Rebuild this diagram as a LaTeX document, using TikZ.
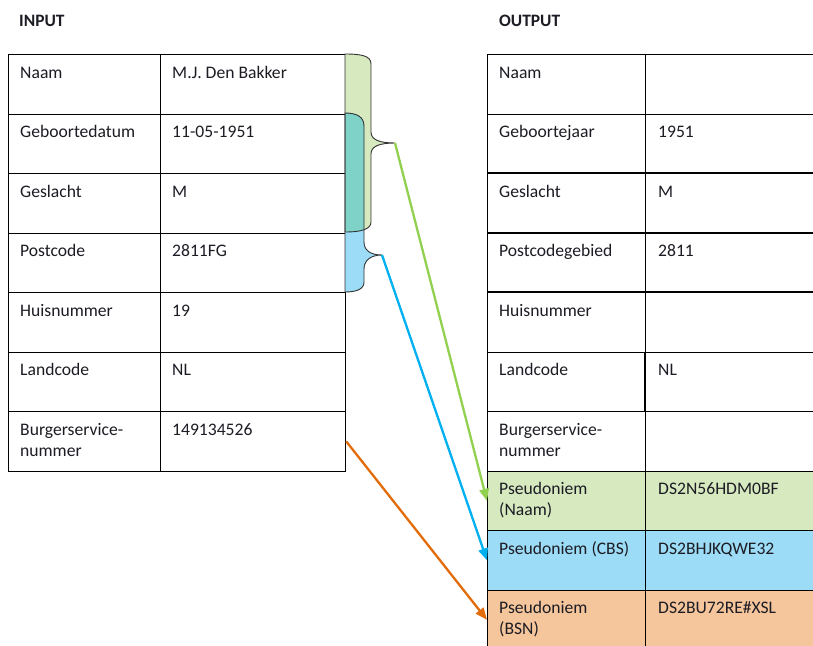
\documentclass[tikz,border=0pt]{standalone}
\usepackage{fontspec}
\setmainfont{Carlito}
\usetikzlibrary{arrows.meta,calc}
\definecolor{gfill}{HTML}{D6E9BF}
\definecolor{bfill}{HTML}{9CDCF6}
\definecolor{ofill}{HTML}{F5C59B}
\definecolor{tealfill}{HTML}{7ED2C7}
\definecolor{gline}{HTML}{92D050}
\definecolor{bline}{HTML}{00B0F0}
\definecolor{oline}{HTML}{E36C0A}
\definecolor{txtc}{HTML}{1C1C24}
\newcommand{\greenbracepath}{(345,54) .. controls (362,54) and (371,56) .. (371,64) -- (371,132) .. controls (371,140) and (380,143) .. (395,143) .. controls (380,143) and (371,146) .. (371,154) -- (371,222) .. controls (371,229) and (362,232) .. (345,232) -- cycle}
\newcommand{\bluebracepath}{(345,113) .. controls (357,113) and (364,117) .. (364,126) -- (364,242) .. controls (364,250) and (370,255) .. (382,255) .. controls (370,255) and (364,261) .. (364,269) -- (364,282) .. controls (364,289) and (357,292) .. (345,292) -- cycle}
\begin{document}
\begin{tikzpicture}[x=1pt,y=-1pt,
  cell/.style={draw=black,line width=1.2pt,anchor=north west,inner sep=0pt,minimum height=59.5pt},
  ca/.style={cell,minimum width=152pt},
  cb/.style={cell,minimum width=185pt},
  oa/.style={cell,minimum width=158pt},
  ob/.style={cell,minimum width=171pt},
  txt/.style={anchor=north west,inner sep=0pt,align=left,text=txtc,font=\fontsize{17.6}{21}\selectfont},
  ttl/.style={anchor=base west,inner sep=0pt,text=txtc,font=\fontsize{17.4}{21}\selectfont\bfseries},
  brace/.style={draw=black!80,line width=0.9pt},
  arr/.style={line width=2.3pt,-{Triangle[length=12pt,width=9.5pt]}}
]
\clip (0,0) rectangle (813,645);
\fill[white] (0,0) rectangle (813,645);
\node[ttl] (tin) at (19,26) {INPUT};
\node[ttl] (tout) at (499,26) {OUTPUT};
% input table
\foreach \i/\a/\b in {1/Naam/M.J. Den Bakker,2/Geboortedatum/11-05-1951,3/Geslacht/M,4/Postcode/2811FG,5/Huisnummer/19,6/Landcode/NL,7/{Burgerservice-\\nummer}/149134526}{
  \node[ca] (i\i a) at (8,{54+59.5*(\i-1)}) {};
  \node[cb] (i\i b) at (160,{54+59.5*(\i-1)}) {};
  \node[txt] at ($(i\i a.north west)+(12,11)$) {\rule{0pt}{13pt}\a};
  \node[txt] at ($(i\i b.north west)+(12,11)$) {\rule{0pt}{13pt}\b};
}
% output table
\foreach \i/\a/\b/\f in {1/Naam//white,2/Geboortejaar/1951/white,3/Geslacht/M/white,4/Postcodegebied/2811/white,5/Huisnummer//white,6/Landcode/NL/white,7/{Burgerservice-\\nummer}//white,8/{Pseudoniem\\(Naam)}/DS2N56HDM0BF/gfill,9/Pseudoniem (CBS)/DS2BHJKQWE32/bfill,10/{Pseudoniem\\(BSN)}/DS2BU72RE\#XSL/ofill}{
  \node[oa,fill=\f] (o\i a) at (487,{54+59.5*(\i-1)}) {};
  \node[ob,fill=\f] (o\i b) at (645,{54+59.5*(\i-1)}) {};
  \node[txt] at ($(o\i a.north west)+(12,11)$) {\rule{0pt}{13pt}\a};
  \node[txt] at ($(o\i b.north west)+(13,11)$) {\rule{0pt}{13pt}\b};
}
\draw[line width=2pt] (o3a.north west) -- (o3b.north east);
\draw[line width=2pt] (o4a.north west) -- (o4b.north east);
\draw[line width=2pt] (o5a.north west) -- (o5b.north east);
\draw[line width=2pt] (o6b.north west) -- (o6b.south west);
% braces
\fill[gfill] \greenbracepath;
\fill[bfill] \bluebracepath;
\begin{scope}
  \clip \greenbracepath;
  \fill[tealfill] \bluebracepath;
\end{scope}
\draw[brace] \greenbracepath;
\draw[brace] \bluebracepath;
\coordinate (gtip) at (395,143);
\coordinate (btip) at (382,255);
% arrows
\draw[arr,gline] (gtip) -- (o8a.west);
\draw[arr,bline] (btip) -- (o9a.west);
\draw[arr,oline] (i7b.east) -- (o10a.west);
\end{tikzpicture}
\end{document}
